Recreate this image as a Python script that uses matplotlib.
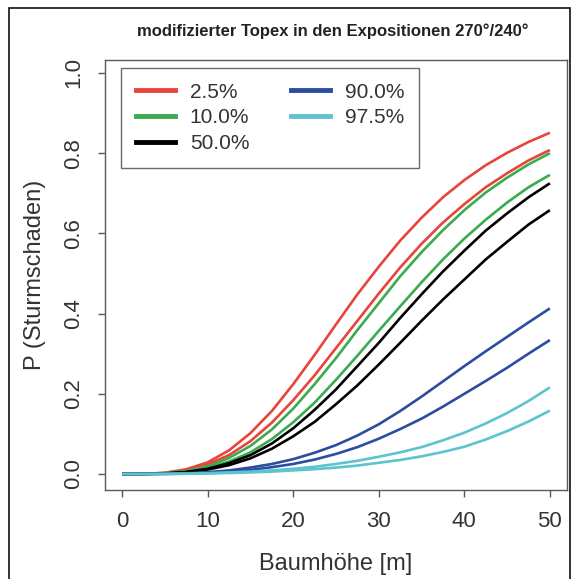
import matplotlib
matplotlib.use("Agg")
import matplotlib.pyplot as plt
from matplotlib.patches import Rectangle
from matplotlib.lines import Line2D

plt.rcParams['font.family'] = ['Liberation Sans', 'DejaVu Sans']

hoehe = [0, 2.5, 5, 7.5, 10, 12.5, 15, 17.5, 20, 22.5, 25, 27.5, 30,
         32.5, 35, 37.5, 40, 42.5, 45, 47.5, 50]

q025_a = [0, 0.0003, 0.003, 0.0118, 0.029, 0.059, 0.102, 0.157, 0.224, 0.297, 0.373,
          0.448, 0.517, 0.582, 0.639, 0.690, 0.733, 0.770, 0.801, 0.828, 0.851]
q025_b = [0, 0.0003, 0.0027, 0.0097, 0.024, 0.047, 0.082, 0.128, 0.184, 0.246, 0.314,
          0.382, 0.450, 0.515, 0.574, 0.627, 0.673, 0.715, 0.750, 0.782, 0.808]
q100_a = [0, 0.0002, 0.002, 0.0076, 0.019, 0.040, 0.070, 0.111, 0.163, 0.224, 0.289,
          0.359, 0.426, 0.493, 0.553, 0.608, 0.658, 0.702, 0.739, 0.772, 0.800]
q100_b = [0, 0.0002, 0.0016, 0.006, 0.015, 0.031, 0.054, 0.087, 0.129, 0.178, 0.235,
          0.295, 0.357, 0.418, 0.478, 0.535, 0.587, 0.634, 0.677, 0.715, 0.746]
q500_a = [0, 0.0001, 0.0013, 0.005, 0.013, 0.027, 0.047, 0.076, 0.114, 0.160, 0.211,
          0.269, 0.327, 0.389, 0.448, 0.505, 0.557, 0.607, 0.650, 0.690, 0.725]
q500_b = [0, 0.0001, 0.0012, 0.0045, 0.011, 0.022, 0.039, 0.063, 0.094, 0.130, 0.174,
          0.221, 0.273, 0.327, 0.382, 0.435, 0.485, 0.535, 0.579, 0.622, 0.658]
q900_a = [0, 0.0001, 0.0005, 0.0018, 0.0045, 0.009, 0.016, 0.025, 0.037, 0.053, 0.072,
          0.096, 0.124, 0.157, 0.193, 0.231, 0.269, 0.306, 0.342, 0.378, 0.413]
q900_b = [0, 0.0001, 0.0004, 0.0013, 0.003, 0.006, 0.010, 0.017, 0.025, 0.036, 0.050,
          0.067, 0.088, 0.112, 0.138, 0.168, 0.200, 0.232, 0.265, 0.300, 0.334]
q975_a = [0, 0, 0.0002, 0.0008, 0.002, 0.0038, 0.006, 0.009, 0.013, 0.018, 0.025,
          0.033, 0.043, 0.054, 0.067, 0.084, 0.103, 0.126, 0.152, 0.182, 0.216]
q975_b = [0, 0, 0.0001, 0.0006, 0.0015, 0.0025, 0.004, 0.006, 0.009, 0.012, 0.016,
          0.021, 0.028, 0.035, 0.044, 0.055, 0.068, 0.086, 0.107, 0.131, 0.158]

labels = ["2.5%", "10.0%", "50.0%", "90.0%", "97.5%"]
colors = ["#e8443c", "#3aab4f", "#000000", "#2a4d9e", "#5cc3cf"]
series = [(q025_a, q025_b), (q100_a, q100_b), (q500_a, q500_b),
          (q900_a, q900_b), (q975_a, q975_b)]

x_ticks = [0, 10, 20, 30, 40, 50]
y_ticks = [0.0, 0.2, 0.4, 0.6, 0.8, 1.0]

W, H = 576, 579
fig = plt.figure(figsize=(W / 100, H / 100), dpi=100)
ax = fig.add_axes([105 / W, 1 - 490 / H, 462 / W, 430 / H])

lw = 1.9
for (a, b), c in zip(series, colors):
    ax.plot(hoehe, a, color=c, lw=lw, solid_capstyle='butt', solid_joinstyle='round')
    ax.plot(hoehe, b, color=c, lw=lw, solid_capstyle='butt', solid_joinstyle='round')

ax.set_xlim(-2, 52)
ax.set_ylim(-0.0399, 1.0324)
ax.set_xticks(x_ticks)
ax.set_xticklabels([str(v) for v in x_ticks])
ax.set_yticks(y_ticks)
ax.set_yticklabels(["%.1f" % v for v in y_ticks], rotation=90, va='center')

for s in ax.spines.values():
    s.set_color("#5a5a5a")
    s.set_linewidth(1.0)
ax.tick_params(direction='out', length=5, width=1, color="#5a5a5a",
               labelsize=16, labelcolor="#333333")
ax.tick_params(axis='x', pad=10)
ax.tick_params(axis='y', pad=10)

ax.set_xlabel("Baumhöhe [m]", fontsize=17, color="#333333", labelpad=15)
ax.set_ylabel("P (Sturmschaden)", fontsize=17, color="#333333", labelpad=12)

fig.text(333 / W, 1 - 31 / H, "modifizierter Topex in den Expositionen 270°/240°",
         ha='center', va='center', fontsize=12, fontweight='bold', color="#222222")

handles = [Line2D([0], [0], color=c, lw=3.5) for c in colors]
leg = ax.legend(handles, labels, ncol=2, loc='upper left',
                bbox_to_anchor=(0.0346, 0.981), borderaxespad=0,
                fontsize=15, handlelength=1.9, handletextpad=0.7,
                columnspacing=2.0, labelspacing=0.32, borderpad=0.7,
                fancybox=False, framealpha=1, edgecolor="#6a6a6a")
for t in leg.get_texts():
    t.set_color("#333333")
leg.get_frame().set_linewidth(1.0)

fig.patches.append(Rectangle((9 / W, -0.01), (570 - 9) / W, 1 - 8 / H + 0.01,
                             transform=fig.transFigure, fill=False,
                             edgecolor="#111111", lw=1.2))

fig.savefig("out.png", dpi=100)
